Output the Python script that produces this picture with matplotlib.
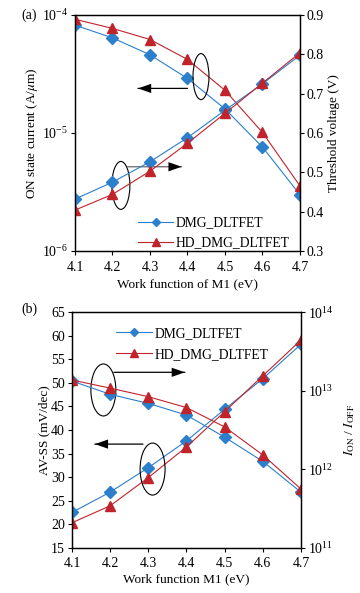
import numpy as np
import matplotlib
matplotlib.use('Agg')
import matplotlib.pyplot as plt
from matplotlib.patches import Ellipse
from matplotlib.lines import Line2D

plt.rcParams['font.family'] = ['Liberation Serif', 'DejaVu Serif']
plt.rcParams['mathtext.fontset'] = 'stix'
plt.rcParams['font.size'] = 9.5

wf = [4.1, 4.2, 4.3, 4.4, 4.5, 4.6, 4.7]

# panel (a)
ion_dmg = [8.2e-5, 6.4e-5, 4.6e-5, 2.9e-5, 1.6e-5, 7.6e-6, 3.0e-6]
ion_hd = [9.2e-5, 7.7e-5, 6.2e-5, 4.2e-5, 2.3e-5, 1.01e-5, 3.56e-6]
vth_dmg = [0.432, 0.475, 0.527, 0.588, 0.658, 0.725, 0.798]
vth_hd = [0.404, 0.444, 0.503, 0.574, 0.650, 0.727, 0.804]

# panel (b)
ss_dmg = [22.5, 26.8, 32.0, 37.7, 44.4, 50.9, 58.2]
ss_hd = [20.3, 23.9, 29.9, 36.4, 43.9, 51.5, 59.1]
ratio_dmg = [1.33e13, 9.0e12, 6.9e12, 4.9e12, 2.56e12, 1.26e12, 5.1e11]
ratio_hd = [1.37e13, 1.08e13, 8.4e12, 6.1e12, 3.46e12, 1.52e12, 5.6e11]

blue = '#2b7fcb'
red = '#c1232b'
lw = 0.8
dkw = dict(color=blue, marker='D', ms=6, lw=lw)
rkw = dict(color=red, marker='^', ms=7.5, lw=lw)


def style(ax):
    ax.tick_params(direction='out', length=3, width=0.8, labelsize=10, pad=2)
    ax.tick_params(axis='x', pad=4)
    for s in ax.spines.values():
        s.set_linewidth(0.9)


def annot(ax, ell, arrow, lc='black'):
    cx, cy, w, h = ell
    ax.add_patch(Ellipse((cx, cy), w, h, transform=ax.transAxes,
                         fill=False, ec='black', lw=0.8, zorder=5))
    x0, x1, y = arrow
    ax.annotate('', xy=(x1, y), xytext=(x0, y), xycoords='axes fraction',
                arrowprops=dict(arrowstyle='-', color=lc, lw=0.9,
                                shrinkA=0, shrinkB=0), zorder=5)
    ax.annotate('', xy=(x1, y), xytext=(x0, y), xycoords='axes fraction',
                arrowprops=dict(arrowstyle='-|>,head_length=1.0,head_width=0.35',
                                color='black', lw=0, shrinkA=0, shrinkB=0),
                zorder=5)


fig = plt.figure(figsize=(3.6, 5.93), dpi=100)

# ---- (a)
ax1 = fig.add_axes([0.2083, 0.5767, 0.625, 0.398])
ax1.plot(wf, ion_dmg, **dkw)
ax1.plot(wf, ion_hd, **rkw)
ax1.set_yscale('log')
ax1.set_ylim(1e-6, 1e-4)
ax1.set_xlim(4.1, 4.7)
ax1.set_xticks(wf)
ax1.set_xlabel('Work function of M1 (eV)', labelpad=3)
ax1.set_ylabel(r'ON state current (A/$\mu$m)', labelpad=1)
ax1.minorticks_off()
style(ax1)
ax1r = ax1.twinx()
ax1r.plot(wf, vth_dmg, **dkw)
ax1r.plot(wf, vth_hd, **rkw)
ax1r.set_ylim(0.3, 0.9)
ax1r.set_yticks([0.3, 0.4, 0.5, 0.6, 0.7, 0.8, 0.9])
ax1r.set_ylabel('Threshold voltage (V)', labelpad=3)
style(ax1r)
annot(ax1, (0.56, 0.739, 0.071, 0.195), (0.50, 0.28, 0.689))
annot(ax1, (0.204, 0.278, 0.08, 0.203), (0.234, 0.474, 0.357), lc='#666666')
handles = [Line2D([], [], **dkw), Line2D([], [], **rkw)]
ax1r.legend(handles, ['DMG_DLTFET', 'HD_DMG_DLTFET'], loc='lower left',
            bbox_to_anchor=(0.225, -0.045), frameon=False, fontsize=9.8,
            handlelength=2.6, handletextpad=0.2, labelspacing=0.5,
            markerscale=0.7)
fig.text(0.06, 0.975, '(a)', ha='left', va='center', fontsize=10)

# ---- (b)
ax2 = fig.add_axes([0.2, 0.0764, 0.636, 0.397])
ax2.plot(wf, ss_dmg, **dkw)
ax2.plot(wf, ss_hd, **rkw)
ax2.set_xlim(4.1, 4.7)
ax2.set_ylim(15, 65)
ax2.set_xticks(wf)
ax2.set_yticks(np.arange(15, 66, 5))
ax2.set_xlabel('Work function M1 (eV)', labelpad=2)
ax2.set_ylabel('AV-SS (mV/dec)', labelpad=1)
style(ax2)
ax2r = ax2.twinx()
ax2r.plot(wf, ratio_dmg, **dkw)
ax2r.plot(wf, ratio_hd, **rkw)
ax2r.set_yscale('log')
ax2r.set_ylim(1e11, 1e14)
ax2r.minorticks_off()
ax2r.set_ylabel(r'$I_{\rm ON}$ / $I_{\rm OFF}$', labelpad=6)
style(ax2r)
annot(ax2, (0.137, 0.67, 0.109, 0.221), (0.183, 0.493, 0.745))
annot(ax2, (0.352, 0.334, 0.109, 0.221), (0.31, 0.10, 0.44))
ax2r.legend(handles, ['DMG_DLTFET', 'HD_DMG_DLTFET'], loc='upper left',
            bbox_to_anchor=(0.14, 0.99), frameon=False, fontsize=9.8,
            handlelength=2.6, handletextpad=0.2, labelspacing=0.6,
            markerscale=0.7)
fig.text(0.06, 0.478, '(b)', ha='left', va='center', fontsize=10)

fig.savefig('out.png', dpi=100)
